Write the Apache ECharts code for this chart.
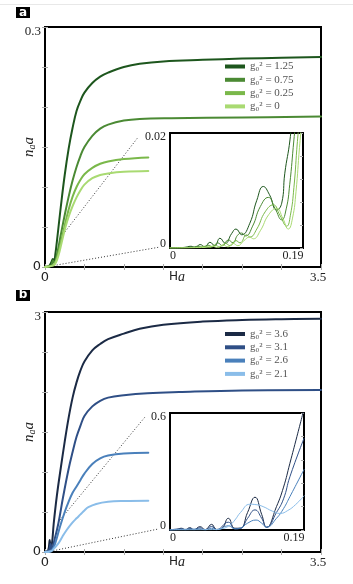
<!DOCTYPE html>
<html>
<head>
<meta charset="utf-8">
<script src="https://cdn.jsdelivr.net/npm/echarts@6/dist/echarts.min.js"></script>
<style>
html, body { margin: 0; padding: 0; background: #fff; }
#chart { width: 353px; height: 584px; }
</style>
</head>
<body>
<div id="chart"></div>
<script>
// panel a (x = Ha, y = n_a a)
const namesA = ['g₀² = 1.25', 'g₀² = 0.75', 'g₀² = 0.25', 'g₀² = 0']
const colorsA = ['#1d561d', '#4b8a34', '#7ab84a', '#a9da72']
const mainA1 = [[0, 0], [0.05, 0.001], [0.08, 0.006], [0.1, 0.01], [0.115, 0.007], [0.13, 0.015], [0.16, 0.04], [0.2, 0.075], [0.25, 0.115], [0.3, 0.148], [0.35, 0.174], [0.4, 0.195], [0.45, 0.208], [0.5, 0.218], [0.6, 0.23], [0.7, 0.238], [0.8, 0.243], [1.0, 0.25], [1.2, 0.254], [1.5, 0.257], [2.0, 0.259], [2.5, 0.2605], [3.0, 0.2615], [3.5, 0.2625]]
const mainA2 = [[0, 0], [0.08, 0.002], [0.1, 0.008], [0.12, 0.005], [0.15, 0.015], [0.2, 0.04], [0.25, 0.065], [0.3, 0.088], [0.35, 0.108], [0.4, 0.125], [0.45, 0.139], [0.5, 0.15], [0.6, 0.164], [0.7, 0.173], [0.8, 0.178], [1.0, 0.183], [1.2, 0.185], [1.6, 0.186], [2.5, 0.187], [3.5, 0.188]]
const mainA3 = [[0, 0], [0.1, 0.002], [0.13, 0.006], [0.16, 0.014], [0.2, 0.03], [0.25, 0.052], [0.3, 0.072], [0.35, 0.088], [0.4, 0.1], [0.45, 0.109], [0.5, 0.116], [0.6, 0.124], [0.7, 0.129], [0.8, 0.132], [1.0, 0.135], [1.31, 0.137]]
const mainA4 = [[0, 0], [0.11, 0.002], [0.14, 0.006], [0.17, 0.014], [0.21, 0.03], [0.26, 0.05], [0.3, 0.063], [0.35, 0.076], [0.4, 0.087], [0.45, 0.096], [0.5, 0.103], [0.6, 0.111], [0.7, 0.115], [0.8, 0.117], [1.0, 0.119], [1.31, 0.12]]
const insetA1 = [[0, 0], [0.02, 0.0001], [0.03, 0.0003], [0.036, 0.0001], [0.043, 0.0006], [0.05, 0.0002], [0.057, 0.001], [0.064, 0.0004], [0.0714, 0.0017], [0.079, 0.0008], [0.088, 0.0025], [0.0943, 0.0033], [0.1024, 0.0023], [0.114, 0.0043], [0.124, 0.0083], [0.1333, 0.0107], [0.142, 0.0093], [0.1524, 0.0066], [0.1596, 0.0078], [0.164, 0.013], [0.1714, 0.0188], [0.176, 0.025]]
const insetA2 = [[0, 0], [0.03, 0.0001], [0.04, 0.0003], [0.047, 0.0001], [0.054, 0.0005], [0.061, 0.0002], [0.068, 0.0009], [0.075, 0.0004], [0.0833, 0.0014], [0.09, 0.0009], [0.0964, 0.0022], [0.1024, 0.0026], [0.108, 0.0021], [0.118, 0.0038], [0.129, 0.0072], [0.1404, 0.0088], [0.15, 0.0069], [0.1596, 0.0049], [0.166, 0.0068], [0.171, 0.011], [0.177, 0.0188], [0.182, 0.025]]
const insetA3 = [[0, 0], [0.04, 0.0001], [0.05, 0.0003], [0.057, 0.0001], [0.064, 0.0005], [0.071, 0.0002], [0.079, 0.0008], [0.086, 0.0004], [0.094, 0.0013], [0.1, 0.0009], [0.1095, 0.0023], [0.114, 0.0019], [0.124, 0.0033], [0.136, 0.0063], [0.1476, 0.0075], [0.157, 0.0057], [0.1667, 0.0038], [0.172, 0.0057], [0.177, 0.0105], [0.182, 0.0185], [0.187, 0.025]]
const insetA4 = [[0, 0], [0.05, 0.0001], [0.06, 0.0003], [0.068, 0.0001], [0.076, 0.0005], [0.083, 0.0002], [0.09, 0.0008], [0.097, 0.0004], [0.105, 0.0012], [0.114, 0.0019], [0.119, 0.0016], [0.129, 0.003], [0.141, 0.0058], [0.1524, 0.0069], [0.161, 0.0052], [0.169, 0.0033], [0.175, 0.0052], [0.18, 0.0098], [0.185, 0.0175], [0.19, 0.024]]
const zoomLinesA = [[[0.254, 0.044], [1.171, 0.161]], [[0.148, 0.0025], [1.437, 0.0246]]]

// panel b
const namesB = ['g₀² = 3.6', 'g₀² = 3.1', 'g₀² = 2.6', 'g₀² = 2.1']
const colorsB = ['#1b2a45', '#2f4f86', '#4a80bb', '#8abde9']
const mainB1 = [[0, 0], [0.04, 0.02], [0.06, 0.15], [0.07, 0.04], [0.09, 0.12], [0.11, 0.35], [0.15, 0.7], [0.2, 1.05], [0.25, 1.38], [0.3, 1.68], [0.35, 1.93], [0.4, 2.12], [0.45, 2.27], [0.5, 2.38], [0.6, 2.52], [0.7, 2.6], [0.8, 2.66], [1.0, 2.73], [1.2, 2.79], [1.5, 2.84], [2.0, 2.88], [2.5, 2.9], [3.0, 2.91], [3.5, 2.915]]
const mainB2 = [[0, 0], [0.05, 0.02], [0.07, 0.1], [0.085, 0.03], [0.12, 0.15], [0.17, 0.36], [0.23, 0.69], [0.3, 1.04], [0.35, 1.25], [0.4, 1.44], [0.45, 1.58], [0.5, 1.7], [0.6, 1.82], [0.7, 1.89], [0.8, 1.93], [1.0, 1.96], [1.3, 1.985], [1.7, 2.0], [2.5, 2.02], [3.5, 2.025]]
const mainB3 = [[0, 0], [0.07, 0.01], [0.1, 0.04], [0.13, 0.11], [0.19, 0.316], [0.25, 0.5], [0.3, 0.63], [0.35, 0.74], [0.4, 0.82], [0.45, 0.9], [0.5, 0.98], [0.6, 1.1], [0.7, 1.17], [0.8, 1.205], [1.0, 1.232], [1.31, 1.242]]
const mainB4 = [[0, 0], [0.08, 0.01], [0.11, 0.04], [0.17, 0.108], [0.22, 0.19], [0.275, 0.275], [0.35, 0.37], [0.4, 0.421], [0.45, 0.47], [0.5, 0.52], [0.55, 0.56], [0.65, 0.6], [0.8, 0.627], [1.0, 0.637], [1.31, 0.641]]
const insetB1 = [[0, 0], [0.01, 0.003], [0.016, 0.009], [0.022, 0.002], [0.028, 0.012], [0.034, 0.002], [0.0425, 0.017], [0.05, 0.002], [0.059, 0.029], [0.066, 0.003], [0.074, 0.01], [0.0827, 0.06], [0.092, 0.009], [0.1, 0.01], [0.11, 0.09], [0.1205, 0.168], [0.13, 0.08], [0.137, 0.014], [0.151, 0.12], [0.161, 0.22], [0.17, 0.342], [0.18, 0.48], [0.19, 0.62]]
const insetB2 = [[0, 0], [0.016, 0.006], [0.022, 0.001], [0.028, 0.008], [0.034, 0.001], [0.0425, 0.011], [0.05, 0.001], [0.059, 0.018], [0.066, 0.002], [0.0827, 0.04], [0.092, 0.006], [0.1, 0.008], [0.11, 0.06], [0.1205, 0.103], [0.13, 0.06], [0.137, 0.014], [0.151, 0.09], [0.161, 0.16], [0.17, 0.273], [0.19, 0.47]]
const insetB3 = [[0, 0], [0.0425, 0.005], [0.05, 0.001], [0.059, 0.009], [0.066, 0.001], [0.0827, 0.022], [0.092, 0.006], [0.1, 0.01], [0.11, 0.035], [0.122, 0.051], [0.13, 0.035], [0.137, 0.015], [0.151, 0.06], [0.161, 0.11], [0.17, 0.171], [0.19, 0.31]]
const insetB4 = [[0, 0], [0.06, 0.002], [0.075, 0.008], [0.085, 0.025], [0.092, 0.051], [0.1, 0.09], [0.1134, 0.132], [0.122, 0.13], [0.132, 0.12], [0.145, 0.097], [0.156, 0.085], [0.167, 0.1], [0.178, 0.13], [0.19, 0.175]]
const zoomLinesB = [[[0.19, 0.4], [1.268, 1.6875]], [[0.105, 0.016], [1.437, 0.2875]]]

const serif = 'Liberation Serif'
const sans = 'DejaVu Sans'

function curve(name, data, color, xi, yi, width, smooth) {
  return {
    type: 'line', name, data, xAxisIndex: xi, yAxisIndex: yi,
    symbol: 'none', smooth, silent: true,
    lineStyle: { color, width, join: 'round', cap: 'round' }, itemStyle: { color }
  }
}

function dotted(data, xi, yi) {
  return {
    type: 'line', name: 'zoom', data, xAxisIndex: xi, yAxisIndex: yi, symbol: 'none', silent: true,
    lineStyle: { color: '#333', width: 1, type: [1, 2] }
  }
}

const tickStyle = { inside: true, length: 3, lineStyle: { color: '#aaa' } }

function mainX(grid, position) {
  const ax = {
    gridIndex: grid, type: 'value', position, min: 0, max: 3.5, interval: 0.5,
    axisLine: { show: false }, splitLine: { show: false }, axisTick: tickStyle,
    axisLabel: { show: false }
  }
  if (position === 'bottom') {
    ax.axisLabel = {
      show: true, margin: 4,
      formatter: v => v === 0 ? '{s|0}' : (v === 3.5 ? '{r|3.5}' : ''),
      rich: {
        s: { fontFamily: sans, fontSize: 13, color: '#222' },
        r: { fontFamily: serif, fontSize: 13, color: '#222', padding: [0, 6, 0, 0] }
      }
    }
    ax.name = '{h|H}{a|a}'
    ax.nameLocation = 'middle'
    ax.nameGap = 3
    ax.nameMoveOverlap = false
    ax.nameTextStyle = {
      padding: [0, 12, 0, 0], verticalAlign: 'top',
      rich: {
        h: { fontFamily: sans, fontSize: 12, color: '#222' },
        a: { fontFamily: serif, fontStyle: 'italic', fontSize: 14, color: '#222' }
      }
    }
  }
  return ax
}

function mainY(grid, position, max, topLabel) {
  const ax = {
    gridIndex: grid, type: 'value', position, min: 0, max, interval: max / 6,
    axisLine: { show: false }, splitLine: { show: false }, axisTick: tickStyle,
    axisLabel: { show: false }
  }
  if (position === 'left') {
    ax.axisLabel = {
      show: true, margin: 4,
      formatter: v => v === 0 ? '{s|0}' : (Math.abs(v - max) < 1e-9 ? '{t|' + topLabel + '}' : ''),
      rich: {
        s: { fontFamily: sans, fontSize: 13, color: '#222' },
        t: { fontFamily: serif, fontSize: 13, color: '#222', padding: [10, 0, 0, 0] }
      }
    }
    ax.name = '{n|n}{sub|a}{n|a}'
    ax.nameLocation = 'middle'
    ax.nameRotate = 90
    ax.nameGap = 8
    ax.nameMoveOverlap = false
    ax.nameTextStyle = {
      rich: {
        n: { fontFamily: serif, fontStyle: 'italic', fontSize: 15, color: '#222' },
        sub: { fontFamily: serif, fontStyle: 'italic', fontSize: 10, color: '#222', verticalAlign: 'bottom' }
      }
    }
  }
  return ax
}

function insetX(grid) {
  return {
    gridIndex: grid, type: 'value', min: 0, max: 0.19, interval: 0.19,
    axisLine: { show: false }, splitLine: { show: false }, axisTick: { show: false },
    axisLabel: {
      margin: 2,
      formatter: v => v === 0 ? '{l|0}' : '{r|0.19}',
      rich: {
        l: { fontFamily: serif, fontSize: 12, color: '#222', padding: [0, 0, 0, 6] },
        r: { fontFamily: serif, fontSize: 12, color: '#222', padding: [0, 20, 0, 0] }
      }
    }
  }
}

function insetY(grid, position, max, topLabel) {
  const ax = {
    gridIndex: grid, type: 'value', position, min: 0, max,
    axisLine: { show: false }, splitLine: { show: false }
  }
  if (position === 'left') {
    ax.interval = max
    ax.axisTick = { show: false }
    ax.axisLabel = {
      margin: 4,
      formatter: v => v === 0 ? '{b|0}' : '{t|' + topLabel + '}',
      rich: {
        b: { fontFamily: serif, fontSize: 12, color: '#222', padding: [0, 0, 8, 0] },
        t: { fontFamily: serif, fontSize: 12, color: '#222', padding: [7, 0, 0, 0] }
      }
    }
  } else {
    ax.interval = max / 5
    ax.axisTick = tickStyle
    ax.axisLabel = { show: false }
  }
  return ax
}

const frame = { show: true, borderColor: '#000', borderWidth: 2, backgroundColor: '#fff' }
const legendBase = {
  orient: 'vertical', left: 225, padding: 0, icon: 'rect', itemWidth: 20, itemHeight: 4,
  itemGap: 0.3, selectedMode: false,
  textStyle: { fontFamily: serif, fontSize: 11, lineHeight: 13, color: '#555' }
}

const mainsA = [mainA1, mainA2, mainA3, mainA4]
const insetsA = [insetA1, insetA2, insetA3, insetA4]
const mainsB = [mainB1, mainB2, mainB3, mainB4]
const insetsB = [insetB1, insetB2, insetB3, insetB4]

const series = []
zoomLinesA.forEach(d => series.push(dotted(d, 0, 0)))
zoomLinesB.forEach(d => series.push(dotted(d, 3, 4)))
mainsA.forEach((d, i) => series.push(curve(namesA[i], d, colorsA[i], 0, 0, 2, 0.4)))
insetsA.forEach((d, i) => series.push(curve(namesA[i], d, colorsA[i], 2, 2, 1, 0.5)))
mainsB.forEach((d, i) => series.push(curve(namesB[i], d, colorsB[i], 3, 4, 2, 0.4)))
insetsB.forEach((d, i) => series.push(curve(namesB[i], d, colorsB[i], 5, 6, 1, 0.5)))

const chart = echarts.init(document.getElementById('chart'))
chart.setOption({
  animation: false,
  backgroundColor: '#fff',
  grid: [
    Object.assign({ left: 45, top: 27, width: 276, height: 240, outerBoundsMode: 'none' }, frame),
    Object.assign({ left: 170, top: 133, width: 133, height: 115, outerBoundsMode: 'none' }, frame),
    Object.assign({ left: 45, top: 312, width: 276, height: 240, outerBoundsMode: 'none' }, frame),
    Object.assign({ left: 170, top: 413, width: 134, height: 117, outerBoundsMode: 'none' }, frame)
  ],
  xAxis: [mainX(0, 'bottom'), mainX(0, 'top'), insetX(1), mainX(2, 'bottom'), mainX(2, 'top'), insetX(3)],
  yAxis: [
    mainY(0, 'left', 0.3, '0.3'), mainY(0, 'right', 0.3), insetY(1, 'left', 0.02, '0.02'), insetY(1, 'right', 0.02),
    mainY(2, 'left', 3, '3'), mainY(2, 'right', 3), insetY(3, 'left', 0.6, '0.6'), insetY(3, 'right', 0.6)
  ],
  legend: [
    Object.assign({ top: 60, data: namesA }, legendBase),
    Object.assign({ top: 327.5, data: namesB }, legendBase)
  ],
  graphic: [
    { type: 'rect', shape: { x: 0, y: 4, width: 353, height: 1 }, style: { fill: '#e8e8e8' } },
    { type: 'rect', shape: { x: 16, y: 7, width: 14, height: 11 }, style: { fill: '#000' } },
    { type: 'text', x: 23, y: 12.5, style: { text: 'a', fill: '#fff', font: 'bold 12px "DejaVu Sans"', align: 'center', verticalAlign: 'middle' } },
    { type: 'rect', shape: { x: 16, y: 290, width: 14, height: 11 }, style: { fill: '#000' } },
    { type: 'text', x: 23, y: 295, style: { text: 'b', fill: '#fff', font: 'bold 12px "DejaVu Sans"', align: 'center', verticalAlign: 'middle' } }
  ],
  series
})
</script>
</body>
</html>
